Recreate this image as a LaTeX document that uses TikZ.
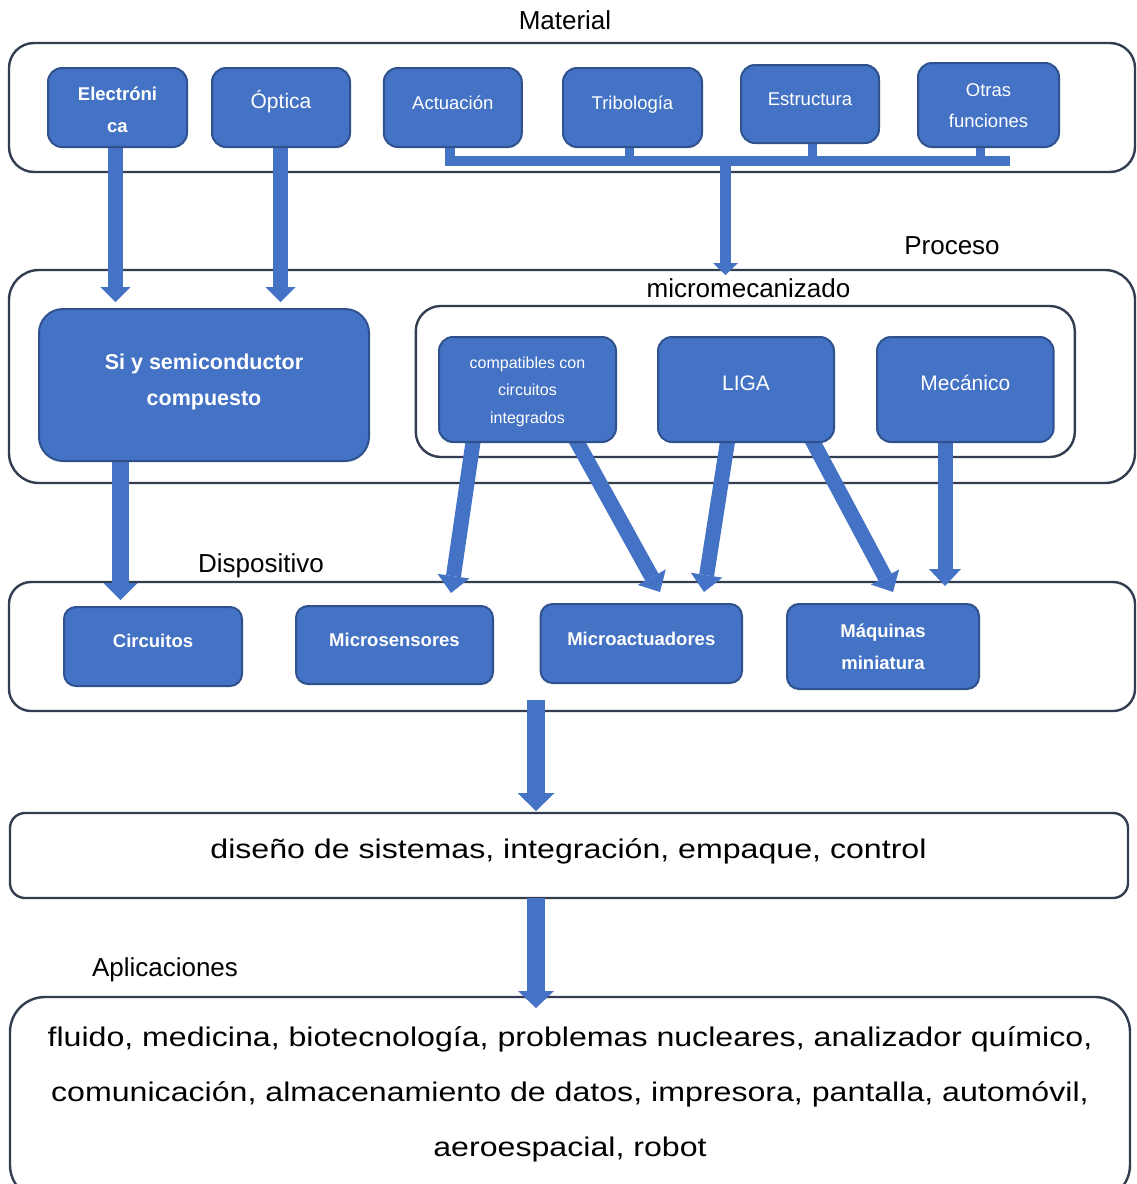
\documentclass[tikz,border=0pt]{standalone}
\usepackage{fontspec}
\setmainfont{Liberation Sans}
\newfontfamily\widefont[FakeStretch=1.19]{Liberation Sans}
\usetikzlibrary{arrows.meta,calc}
\definecolor{blueF}{RGB}{68,114,196}
\definecolor{blueD}{RGB}{47,82,143}
\definecolor{frameC}{RGB}{50,62,80}
\newcommand\fsz[2]{\fontsize{#1}{#2}\selectfont}
\pgfdeclarelayer{back}
\pgfdeclarelayer{mid}
\pgfsetlayers{back,mid,main}
\begin{document}
\begin{tikzpicture}[x=1pt,y=-1pt,
  frameA/.style={draw=frameC, line width=2.4pt, fill=white, inner sep=0pt, outer sep=0pt, rectangle, rounded corners=#1},
  bbox/.style={draw=blueD, line width=2pt, fill=blueF, inner sep=0pt, outer sep=0pt, rectangle, rounded corners=#1},
  wtxt/.style={text=white, inner sep=0pt, align=center},
  ltxt/.style={text=black, inner sep=0pt, font=\fsz{26}{30}},
  fat/.style n args={3}{draw=blueF, line width=#1, -{Triangle[width=#2,length=#3,line width=0pt]}},
  busline/.style={draw=blueF, line width=10pt, line join=miter},
  stubline/.style={draw=blueF, line width=9pt},
]
\useasboundingbox (0,0) rectangle (1136,1184);

% ---------- outer frames ----------
\begin{pgfonlayer}{back}
\node[frameA=25pt, minimum width=1126pt, minimum height=129pt] (mat) at (572,107.5) {};
\node[frameA=30pt, minimum width=1126pt, minimum height=213pt] (proc) at (572,376.5) {};
\node[frameA=25pt, minimum width=659pt, minimum height=151pt] (micro) at (745.3,381.5) {};
\node[frameA=22pt, minimum width=1126pt, minimum height=129pt] (disp) at (572,646.5) {};
\node[frameA=15pt, minimum width=1118pt, minimum height=85pt] (dis) at (569,855.5) {};
\node[frameA=35pt, minimum width=1120pt, minimum height=203pt] (apps) at (570,1098.5) {};
\end{pgfonlayer}

% ---------- blue boxes ----------
\node[bbox=14pt, minimum width=139pt, minimum height=79pt] (elec) at (117.5,107.5) {};
\node[bbox=14pt, minimum width=138pt, minimum height=79pt] (opt) at (281,107.5) {};
\node[bbox=14pt, minimum width=138pt, minimum height=79pt] (act) at (452.8,107.5) {};
\node[bbox=14pt, minimum width=139pt, minimum height=79pt] (tri) at (632.5,107.5) {};
\node[bbox=14pt, minimum width=138pt, minimum height=78pt] (est) at (810,104) {};
\node[bbox=14pt, minimum width=141pt, minimum height=84pt] (otr) at (988.5,105) {};

\node[bbox=24pt, minimum width=330pt, minimum height=152pt] (si) at (204,385) {};
\node[bbox=14pt, minimum width=177pt, minimum height=105pt] (comp) at (527.5,389.5) {};
\node[bbox=14pt, minimum width=176pt, minimum height=105pt] (liga) at (746,389.5) {};
\node[bbox=14pt, minimum width=176.6pt, minimum height=105pt] (mec) at (965.3,389.5) {};

\node[bbox=12pt, minimum width=178pt, minimum height=79pt] (circ) at (153,646.5) {};
\node[bbox=12pt, minimum width=197pt, minimum height=78pt] (sens) at (394.5,645) {};
\node[bbox=12pt, minimum width=201.4pt, minimum height=79pt] (acto) at (641.3,643.5) {};
\node[bbox=12pt, minimum width=192pt, minimum height=85pt] (maq) at (883,646.5) {};

% ---------- texts in boxes ----------
\node[wtxt, font=\fsz{18.5}{32}\bfseries] (tElec) at (117.5,110) {Electróni\\ca};
\node[wtxt, font=\fsz{21}{25}] (tOpt) at (281,102) {Óptica};
\node[wtxt, font=\fsz{18.5}{22}] (tAct) at (452.8,102.4) {Actuación};
\node[wtxt, font=\fsz{18.5}{22}] (tTri) at (632.5,104.5) {Tribología};
\node[wtxt, font=\fsz{18.5}{22}] (tEst) at (810,98.8) {Estructura};
\node[wtxt, font=\fsz{18.5}{31.6}] (tOtr) at (988.5,105.8) {Otras\\funciones};

\node[wtxt, font=\fsz{21.5}{36.7}\bfseries] (tSi) at (204,382) {Si y semiconductor\\compuesto};
\node[wtxt, font=\fsz{16}{27.5}] (tComp) at (527.5,391.6) {compatibles con\\circuitos\\integrados};
\node[wtxt, font=\fsz{21}{25}] (tLiga) at (746,383.3) {LIGA};
\node[wtxt, font=\fsz{21}{25}] (tMec) at (965.3,383) {Mecánico};

\node[wtxt, font=\fsz{18.5}{22}\bfseries] (tCirc) at (153,641.3) {Circuitos};
\node[wtxt, font=\fsz{18.5}{22}\bfseries] (tSens) at (394.5,640.3) {Microsensores};
\node[wtxt, font=\fsz{18.5}{22}\bfseries] (tActo) at (641.3,638.7) {Microactuadores};
\node[wtxt, font=\fsz{18.5}{31.7}\bfseries] (tMaq) at (883,646.8) {Máquinas\\miniatura};

% ---------- labels ----------
\node[ltxt] (lMat) at (565,20.5) {Material};
\node[ltxt] (lProc) at (952,245.7) {Proceso};
\node[ltxt] (lMicro) at (748.5,288.2) {micromecanizado};
\node[ltxt] (lDisp) at (261,566) {Dispositivo};
\node[ltxt] (lApl) at (165,969.4) {Aplicaciones};

\node[inner sep=0pt, font=\widefont\fsz{27}{32}] (tDis) at (568.5,851.2)
  {diseño de sistemas, integración, empaque, control};
\node[inner sep=0pt, align=center, font=\widefont\fsz{27}{55}] (tApps) at (570,1094.5)
  {fluido, medicina, biotecnología, problemas nucleares, analizador químico,\\
   comunicación, almacenamiento de datos, impresora, pantalla, automóvil,\\
   aeroespacial, robot};

% ---------- connectors ----------
\coordinate (busR) at (1010,160.5);
\coordinate (busM) at (725.5,158);
\begin{pgfonlayer}{mid}
\draw[busline] ($(act.south)+(-3.3,-4)$) |- (busR);
\draw[stubline] ($(tri.south)+(-3.5,-4)$) -- ($(tri.south)+(-3.5,13.5)$);
\draw[stubline] ($(est.south)+(2,-4)$) -- ($(est.south)+(2,17)$);
\draw[stubline] ($(otr.south)+(-8.5,-4)$) -- ($(otr.south)+(-8.5,13.5)$);
\draw[fat={11pt}{25pt}{12pt}] (busM) -- ($(busM |- proc.north)+(0,5)$);

\draw[fat={15pt}{30pt}{15pt}] ($(elec.south)+(-2,-6)$) -- ($(elec.south |- si.north)+(-2,-7)$);
\draw[fat={15pt}{30pt}{15pt}] ($(opt.south)+(-0.5,-6)$) -- ($(opt.south |- si.north)+(-0.5,-7)$);

\draw[fat={17pt}{34pt}{17pt}] ($(si.south west)+(81.5,-6)$) -- ($(circ.north)+(-32.5,-7)$);

\draw[fat={15pt}{32pt}{17pt}] ($(comp.south)+(-53.6,-6)$) -- ($(sens.north)+(56.5,-13)$);
\draw[fat={15pt}{32pt}{17pt}] ($(comp.south)+(46.2,-6)$) -- ($(acto.north)+(18.7,-12)$);
\draw[fat={15pt}{32pt}{17pt}] ($(liga.south)+(-17.6,-6)$) -- ($(acto.north)+(62.7,-12)$);
\draw[fat={15pt}{32pt}{17pt}] ($(liga.south)+(63.8,-6)$) -- ($(maq.north)+(10,-12)$);
\draw[fat={15pt}{32pt}{17pt}] ($(mec.south)+(-20.3,-6)$) -- ($(maq.north)+(62,-18)$);

\draw[fat={18pt}{37pt}{18pt}] ($(disp.south)+(-36,-11)$) -- ($(dis.north)+(-33,-2)$);
\draw[fat={17.5pt}{36pt}{17pt}] ($(dis.south)+(-33,0)$) -- ($(apps.north)+(-34,11)$);
\end{pgfonlayer}
\end{tikzpicture}
\end{document}
